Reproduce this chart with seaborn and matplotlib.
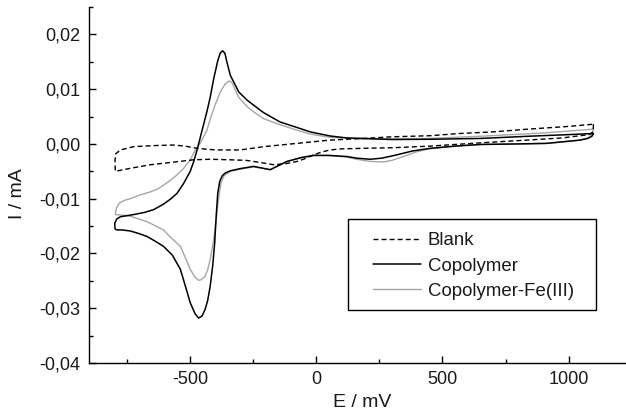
import numpy as np
import pandas as pd
import matplotlib
matplotlib.use("Agg")
import matplotlib.pyplot as plt
from matplotlib.ticker import FixedLocator, FuncFormatter
from matplotlib.patches import Rectangle
import seaborn as sns

# ---------------- data ----------------
# Copolymer (black): reverse sweep from +1098 mV down to -797 mV, then forward sweep back
E_copolymer = [1098, 1092, 1075, 1045, 980, 913, 800, 650, 550, 451, 380, 319, 260, 214, 160, 121,
               50, -11, -60, -116, -160, -182, -205, -248, -300, -340, -360, -372, -382, -390, -396, -402,
               -410, -420, -430, -440, -452, -466, -480, -499, -518, -538, -570, -605, -640, -670,
               -700, -736, -770, -790, -797,
               -798, -790, -776, -750, -723, -680, -644, -605, -575, -551, -525, -499, -485, -472,
               -452, -433, -420, -406, -390, -380, -371, -362, -354, -340, -320, -307, -274, -240,
               -208, -143, -76, -24, 55, 120, 187, 300, 451, 650, 840, 1000, 1098]
I_copolymer = [0.0019, 0.0014, 0.0010, 0.0007, 0.0004, 0.0001, 0.0000, -0.0001, -0.0004, -0.0008,
               -0.0013, -0.0020, -0.0026, -0.0028, -0.0026, -0.0023, -0.0021, -0.0021, -0.0025,
               -0.0032, -0.0042, -0.0047, -0.0045, -0.0041, -0.0045, -0.0049, -0.0053, -0.0058,
               -0.0068, -0.0090, -0.0130, -0.0180, -0.0222, -0.0260, -0.0286, -0.0302, -0.0314,
               -0.0318, -0.0310, -0.0290, -0.0260, -0.0229, -0.0203, -0.0187, -0.0177, -0.0169,
               -0.0164, -0.0159, -0.0157, -0.0157, -0.0155,
               -0.0145, -0.0137, -0.0133, -0.0131, -0.0129, -0.0125, -0.0120, -0.0110, -0.0100,
               -0.0090, -0.0072, -0.0050, -0.0032, -0.0011, 0.0025, 0.0059, 0.0085, 0.0119, 0.0152,
               0.0166, 0.0170, 0.0166, 0.0150, 0.0125, 0.0107, 0.0095, 0.0080, 0.0068, 0.0057,
               0.0040, 0.0030, 0.0022, 0.00145, 0.0011, 0.0010, 0.0008, 0.00085, 0.0010, 0.0014,
               0.0017, 0.0019]

# Copolymer-Fe(III) (grey)
E_fe = [1098, 1093, 1080, 1045, 913, 800, 650, 550, 451, 400, 346, 300, 266, 214, 160, 121, 50,
        -11, -60, -116, -160, -182, -205, -248, -300, -340, -365, -377, -387, -396, -408, -420,
        -430, -440, -455, -466, -482, -499, -518, -538, -578, -605, -644, -670, -710, -736, -770,
        -796,
        -792, -780, -760, -736, -697, -660, -631, -591, -560, -530, -500, -479, -460, -433, -420,
        -400, -380, -360, -345, -335, -320, -307, -274, -240, -208, -143, -76, -24, 55, 187, 451,
        650, 900, 1098]
I_fe = [0.0027, 0.0018, 0.0011, 0.0007, 0.0001, 0.0000, -0.0001, -0.0004, -0.0009, -0.0014,
        -0.0023, -0.0030, -0.0033, -0.0032, -0.0028, -0.0024, -0.0021, -0.0021, -0.0025, -0.0032,
        -0.0042, -0.0047, -0.0045, -0.0042, -0.0046, -0.0050, -0.0058, -0.0071, -0.0100, -0.0138,
        -0.0180, -0.0211, -0.0230, -0.0241, -0.0248, -0.0249, -0.0242, -0.0229, -0.0208, -0.0187,
        -0.0170, -0.0157, -0.0148, -0.0142, -0.0136, -0.0132, -0.0130, -0.0129,
        -0.0118, -0.0108, -0.0103, -0.0100, -0.0093, -0.0088, -0.0083, -0.0071, -0.0060, -0.0047,
        -0.0030, -0.0011, 0.0001, 0.0025, 0.0045, 0.0072, 0.0095, 0.0110, 0.0115, 0.0113, 0.0098,
        0.0085, 0.0068, 0.0056, 0.0046, 0.0035, 0.0025, 0.0018, 0.0012, 0.0009, 0.0010, 0.0014,
        0.0020, 0.0027]

# Blank (dashed)
E_blank = [1098, 1097, 1080, 976, 800, 650, 451, 300, 187, 100, 55, 20, -11, -45, -76, -120, -169,
           -220, -278, -340, -420, -486, -560, -657, -730, -796,
           -797, -794, -776, -723, -640, -565, -520, -472, -400, -340, -301, -208, -76, 55, 187,
           300, 451, 566, 700, 839, 1000, 1098]
I_blank = [0.0036, 0.0022, 0.0017, 0.0011, 0.0006, 0.0002, -0.0004, -0.0007, -0.0008, -0.0009,
           -0.0011, -0.0015, -0.0020, -0.0027, -0.0032, -0.0036, -0.0038, -0.0034, -0.0030,
           -0.0029, -0.0028, -0.0029, -0.0033, -0.0038, -0.0044, -0.0050,
           -0.0030, -0.0018, -0.0011, -0.0005, -0.0003, -0.0002, -0.0004, -0.0008, -0.0011,
           -0.0011, -0.0011, -0.0005, 0.0001, 0.0007, 0.0010, 0.0013, 0.0015, 0.0019, 0.0022,
           0.0027, 0.0032, 0.0036]

x_major = [-500, 0, 500, 1000]
x_minor = [-750, -250, 250, 750]
y_major = [-0.04, -0.03, -0.02, -0.01, 0.00, 0.01, 0.02]
y_minor = [-0.035, -0.025, -0.015, -0.005, 0.005, 0.015, 0.025]

legend_labels = ["Blank", "Copolymer", "Copolymer-Fe(III)"]

# ---------------- style ----------------
sns.set_style("ticks")
plt.rcParams["font.family"] = ["Liberation Sans", "DejaVu Sans"]
plt.rcParams["axes.unicode_minus"] = False

W, H = 626, 419
fig = plt.figure(figsize=(W / 100, H / 100), dpi=100)
ax_l, ax_r, ax_t, ax_b = 89, 626, 7, 363
ax = fig.add_axes([ax_l / W, 1 - ax_b / H, (ax_r - ax_l) / W, (ax_b - ax_t) / H])

def ax_x(px):
    return (px - ax_l) / (ax_r - ax_l)

def ax_y(py):
    return (ax_b - py) / (ax_b - ax_t)

grey = "#a6a6a6"
sns.lineplot(x=E_fe, y=I_fe, sort=False, estimator=None, color=grey,
             linewidth=1.0, ax=ax, label=legend_labels[2])
sns.lineplot(x=E_copolymer, y=I_copolymer, sort=False, estimator=None, color="black",
             linewidth=1.1, ax=ax, label=legend_labels[1])
sns.lineplot(x=E_blank, y=I_blank, sort=False, estimator=None, color="black",
             linewidth=1.0, linestyle=(0, (3.6, 2.2)), ax=ax, label=legend_labels[0])

ax.set_xlim(-900, 1227)
ax.set_ylim(-0.04, 0.025)

ax.xaxis.set_major_locator(FixedLocator(x_major))
ax.xaxis.set_minor_locator(FixedLocator(x_minor))
ax.yaxis.set_major_locator(FixedLocator(y_major))
ax.yaxis.set_minor_locator(FixedLocator(y_minor))
ax.xaxis.set_major_formatter(FuncFormatter(lambda v, p: f"{round(v):d}"))
ax.yaxis.set_major_formatter(FuncFormatter(lambda v, p: f"{round(v, 2) + 0.0:.2f}".replace(".", ",")))

ax.tick_params(which="both", direction="in", width=1.0, color="black", labelsize=13,
               labelcolor="#1a1a1a")
ax.tick_params(which="major", length=5)
ax.tick_params(which="minor", length=3)
ax.tick_params(axis="x", pad=6)
ax.tick_params(axis="y", pad=6)

sns.despine(ax=ax)
for s in ["left", "bottom"]:
    ax.spines[s].set_color("black")
    ax.spines[s].set_linewidth(1.0)

ax.set_xlabel("E / mV", fontsize=14, color="#1a1a1a", va="center")
ax.set_ylabel("I / mA", fontsize=14, color="#1a1a1a", va="center")
ax.xaxis.set_label_coords(ax_x(362), ax_y(402))
ax.yaxis.set_label_coords(ax_x(18), ax_y(194))

# legend frame (drawn separately so its padding can match the reference)
ax.add_patch(Rectangle((ax_x(348), ax_y(310)), ax_x(596) - ax_x(348), ax_y(219) - ax_y(310),
                       transform=ax.transAxes, facecolor="white", edgecolor="black",
                       linewidth=1.0, zorder=4))

handles, labels = ax.get_legend_handles_labels()
hmap = dict(zip(labels, handles))
leg = ax.legend([hmap[l] for l in legend_labels], legend_labels, loc="center left",
                bbox_to_anchor=(ax_x(372.5), ax_y(266)), borderaxespad=0, borderpad=0,
                frameon=False, fontsize=13.4, handlelength=2.58, handletextpad=0.4,
                labelspacing=0.44)
leg.set_zorder(5)
for t in leg.get_texts():
    t.set_color("#1a1a1a")

fig.savefig("out.png", dpi=100)
